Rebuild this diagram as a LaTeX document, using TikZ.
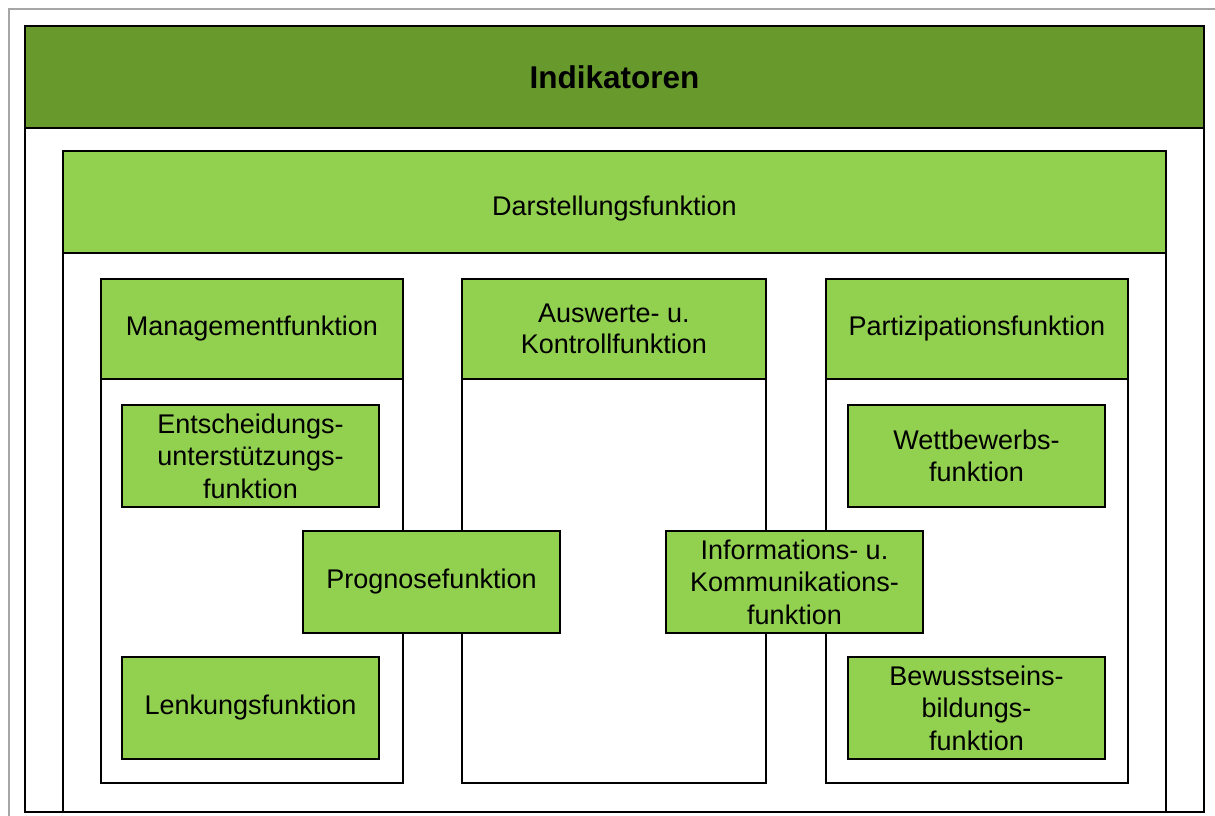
\documentclass[tikz,border=0pt]{standalone}
\usepackage{fontspec}
\setmainfont{Liberation Sans}
\usetikzlibrary{positioning,calc}

\definecolor{darkgreen}{RGB}{104,153,44}
\definecolor{lightgreen}{RGB}{146,208,80}

\begin{document}
\begin{tikzpicture}[x=1pt, y=-1pt, line width=1.8pt,
		frame/.style={rectangle, draw, inner sep=0pt, anchor=north west},
		headbox/.style={rectangle, draw, fill=lightgreen, inner sep=0pt, align=center, font=\fontsize{27}{31}\selectfont},
		funcbox/.style={rectangle, draw, fill=lightgreen, minimum width=257pt, minimum height=102pt, inner sep=0pt, align=center, font=\fontsize{27}{32.5}\selectfont}]
				\useasboundingbox (0,0) rectangle (1215,816);
				\draw[line width=1.2pt, gray!70] (9,820) -- (9,9) -- (1220,9);
				% outer frame and title
				\node[frame, minimum width=1179pt, minimum height=786pt] (outer) at (24,25) {};
				\node[headbox, fill=darkgreen, minimum width=1179pt, minimum height=102pt, anchor=north, font=\fontsize{31.5}{36}\selectfont\bfseries] (indikatoren) at (outer.north) {Indikatoren};
				\node[frame, minimum width=1103pt, minimum height=661pt] (darst) at (62,150) {};
				\node[headbox, minimum width=1103pt, minimum height=102pt, anchor=north, text depth=0pt, text height=28pt] (darsthead) at (darst.north) {Darstellungsfunktion};
				% columns
				\node[frame, minimum width=302pt, minimum height=504pt] (mgmt) at (100,278) {};
				\node[frame, minimum width=304pt, minimum height=504pt] (ausw) at (461,278) {};
				\node[frame, minimum width=302pt, minimum height=504pt] (part) at (825,278) {};
				\node[headbox, minimum width=302pt, minimum height=100pt, anchor=north] (mgmthead) at (mgmt.north) {Managementfunktion};
				\node[headbox, minimum width=304pt, minimum height=100pt, anchor=north] (auswhead) at (ausw.north) {Auswerte- u.\\Kontrollfunktion};
				\node[headbox, minimum width=302pt, minimum height=100pt, anchor=north] (parthead) at (part.north) {Partizipationsfunktion};
				% functions
				\node[funcbox] (entsch) at (250.5,456) {Entscheidungs-\\unterstützungs-\\funktion};
				\node[funcbox] (lenk) at (250.5,708) {Lenkungsfunktion};
				\node[funcbox] (prog) at (431.5,582) {Prognosefunktion};
				\node[funcbox] (info) at (794.5,582) {Informations- u.\\Kommunikations-\\funktion};
				\node[funcbox] (wett) at (976.5,456) {Wettbewerbs-\\funktion};
				\node[funcbox] (bew) at (976.5,708) {Bewusstseins-\\bildungs-\\funktion};
			\end{tikzpicture}
\end{document}
